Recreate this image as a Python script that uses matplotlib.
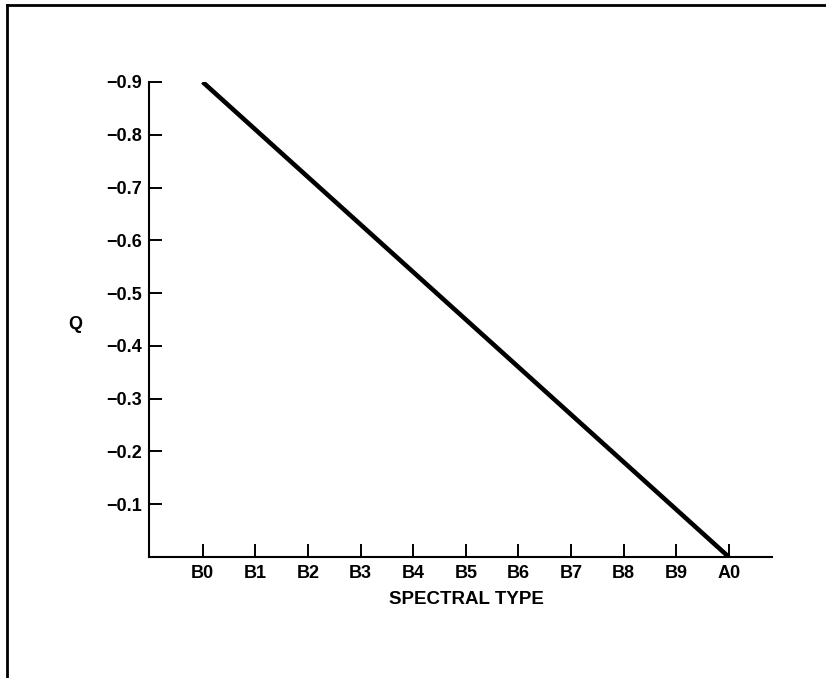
import matplotlib
matplotlib.use("Agg")
import matplotlib.pyplot as plt
from matplotlib.lines import Line2D

# data
spectral_types = ["B0", "B1", "B2", "B3", "B4", "B5", "B6", "B7", "B8", "B9", "A0"]
q_ticks = [-0.9, -0.8, -0.7, -0.6, -0.5, -0.4, -0.3, -0.2, -0.1]
q_tick_labels = ["\u22120.9", "\u22120.8", "\u22120.7", "\u22120.6", "\u22120.5",
                 "\u22120.4", "\u22120.3", "\u22120.2", "\u22120.1"]
line_types = ["B0", "A0"]
line_q = [-0.9, 0.0]

plt.rcParams['font.family'] = ['Liberation Sans', 'DejaVu Sans']

fig = plt.figure(figsize=(8.26, 6.78), dpi=100)
ax = fig.add_axes([149 / 826, 1 - 557 / 678, (772 - 149) / 826, (557 - 82) / 678])

x_line = [spectral_types.index(t) for t in line_types]
ax.plot(x_line, line_q, color='black', lw=3.3, solid_capstyle='butt')

ax.set_xlim(-1.02, 10.82)
ax.set_ylim(0, -0.9)

ax.set_xticks(range(len(spectral_types)))
ax.set_xticklabels(spectral_types, fontsize=13, fontweight='bold')
ax.set_yticks(q_ticks)
ax.set_yticklabels(q_tick_labels, fontsize=13, fontweight='bold')
ax.tick_params(axis='both', direction='in', length=9.5, width=1.4, color='black')
ax.tick_params(axis='x', pad=6)
ax.tick_params(axis='y', pad=5)

for side in ['top', 'right']:
    ax.spines[side].set_visible(False)
for side in ['left', 'bottom']:
    ax.spines[side].set_linewidth(1.5)

fig.text(466 / 826, 1 - 600 / 678, "SPECTRAL TYPE", ha='center', va='center',
         fontsize=13.5, fontweight='bold')
fig.text(75 / 826, 1 - 324 / 678, "Q", ha='center', va='center',
         fontsize=13, fontweight='bold')

# frame around the page (only top and left edges are visible)
fig.add_artist(Line2D([7 / 826, 1], [1 - 5 / 678, 1 - 5 / 678], transform=fig.transFigure,
                      color='black', lw=2))
fig.add_artist(Line2D([7 / 826, 7 / 826], [0, 1 - 5 / 678], transform=fig.transFigure,
                      color='black', lw=2))

fig.savefig("out.png", dpi=100)
